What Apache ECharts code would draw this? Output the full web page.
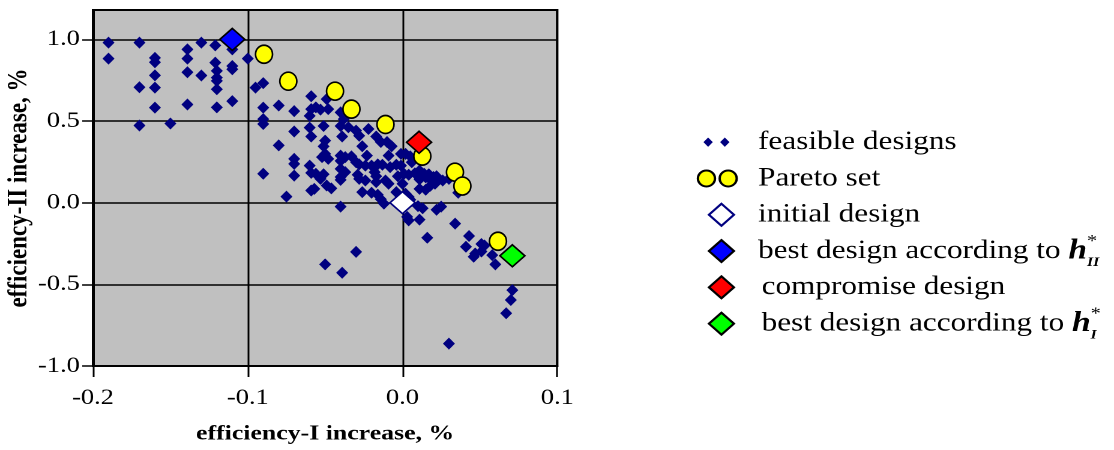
<!DOCTYPE html>
<html>
<head>
<meta charset="utf-8">
<script src="https://cdn.jsdelivr.net/npm/echarts@6/dist/echarts.min.js"></script>
<style>
  html, body { margin: 0; padding: 0; background: #fff; overflow: hidden; }
  /* the original figure is stretched sideways, so the chart is drawn narrow and widened */
  #chart { width: 928px; height: 450px; transform: scaleX(1.2004); transform-origin: 0 0; }
</style>
</head>
<body>
<div id="chart"></div>
<script>
// feasible designs [efficiency-I increase, efficiency-II increase]
var feasible = [
  [-0.190, 0.980], [-0.190, 0.882], [-0.170, 0.980], [-0.170, 0.707], [-0.170, 0.473],
  [-0.160, 0.887], [-0.160, 0.860], [-0.160, 0.780], [-0.160, 0.705], [-0.160, 0.582],
  [-0.150, 0.485], [-0.139, 0.939], [-0.139, 0.882], [-0.139, 0.799], [-0.139, 0.601],
  [-0.130, 0.980], [-0.130, 0.779], [-0.121, 0.963], [-0.121, 0.858], [-0.120, 0.807],
  [-0.120, 0.766], [-0.120, 0.746], [-0.120, 0.695], [-0.120, 0.584], [-0.110, 0.939],
  [-0.110, 0.837], [-0.110, 0.817], [-0.110, 0.622], [-0.100, 0.882], [-0.095, 0.705],
  [-0.090, 0.732], [-0.090, 0.582], [-0.090, 0.512], [-0.090, 0.482], [-0.080, 0.595],
  [-0.080, 0.351], [-0.070, 0.561], [-0.070, 0.436], [-0.070, 0.268], [-0.070, 0.238],
  [-0.070, 0.166], [-0.090, 0.177], [-0.075, 0.037], [-0.059, 0.652], [-0.049, 0.634],
  [-0.059, 0.573], [-0.056, 0.584], [-0.053, 0.570], [-0.048, 0.573], [-0.060, 0.532],
  [-0.040, 0.553], [-0.038, 0.512], [-0.060, 0.460], [-0.059, 0.405], [-0.051, 0.470],
  [-0.050, 0.380], [-0.051, 0.345], [-0.040, 0.470], [-0.035, 0.462], [-0.039, 0.405],
  [-0.030, 0.441], [-0.028, 0.410], [-0.026, 0.346], [-0.022, 0.451], [-0.017, 0.405],
  [-0.014, 0.372], [-0.010, 0.372], [-0.007, 0.346], [-0.060, 0.227], [-0.059, 0.183],
  [-0.056, 0.177], [-0.053, 0.146], [-0.052, 0.279], [-0.050, 0.299], [-0.048, 0.268],
  [-0.051, 0.174], [-0.040, 0.288], [-0.037, 0.279], [-0.033, 0.284], [-0.040, 0.256],
  [-0.030, 0.248], [-0.028, 0.235], [-0.024, 0.227], [-0.023, 0.288], [-0.040, 0.207],
  [-0.037, 0.187], [-0.040, 0.157], [-0.029, 0.171], [-0.028, 0.146], [-0.024, 0.136],
  [-0.020, 0.227], [-0.016, 0.235], [-0.013, 0.232], [-0.018, 0.187], [-0.017, 0.162],
  [-0.017, 0.126], [-0.011, 0.136], [-0.009, 0.116], [-0.008, 0.218], [-0.004, 0.232],
  [-0.009, 0.288], [-0.003, 0.162], [-0.001, 0.299], [0.002, 0.299], [0.005, 0.284],
  [-0.059, 0.075], [-0.057, 0.085], [-0.049, 0.105], [-0.046, 0.088], [-0.040, 0.140],
  [-0.040, -0.024], [-0.026, 0.065], [-0.020, 0.061], [-0.016, 0.049], [-0.014, 0.021],
  [-0.012, -0.006], [-0.004, 0.065], [-0.001, 0.227], [0.006, 0.248], [0.001, 0.177],
  [0.004, 0.171], [0.008, 0.180], [0.011, 0.197], [0.014, 0.177], [0.017, 0.174],
  [0.020, 0.157], [0.022, 0.162], [0.011, 0.143], [0.015, 0.155], [0.018, 0.143],
  [0.000, 0.116], [0.011, 0.085], [0.015, 0.079], [0.018, 0.104], [0.021, 0.116],
  [0.026, 0.136], [0.030, 0.146], [0.036, 0.061], [0.002, 0.055], [0.004, 0.035],
  [0.005, 0.018], [0.010, -0.021], [0.013, -0.034], [0.022, -0.043], [0.025, -0.024],
  [0.003, -0.087], [0.004, -0.108], [0.011, -0.104], [0.034, -0.128], [0.016, -0.215],
  [0.043, -0.204], [0.041, -0.270], [0.051, -0.253], [0.053, -0.262], [0.047, -0.311],
  [0.046, -0.331], [0.051, -0.299], [0.058, -0.321], [0.060, -0.378], [0.071, -0.535],
  [0.070, -0.596], [0.067, -0.677], [0.030, -0.863], [-0.030, -0.301], [-0.050, -0.378],
  [-0.039, -0.429]
];
var pareto = [
  [-0.0895, 0.909], [-0.0738, 0.744], [-0.0436, 0.683], [-0.033, 0.573], [-0.011, 0.479],
  [0.0128, 0.285], [0.0339, 0.187], [0.0387, 0.102], [0.0617, -0.236]
];
var initialDesign = [[0.0, 0.0]];
var bestII = [[-0.110, 1.0]];
var compromise = [[0.0107, 0.37]];
var bestI = [[0.071, -0.325]];

var seriesNames = ['feasible designs', 'Pareto set', 'initial design',
  'best design according to h*II', 'compromise design', 'best design according to h*I'];
var xTicks = [-0.2, -0.1, 0.0, 0.1];
var yTicks = [-1.0, -0.5, 0.0, 0.5, 1.0];

var serif = 'Liberation Serif';
var S = 1.2004; // horizontal stretch of the page

// legend icons, drawn in a 46x24 box (the leading moves fix the box)
var box = 'M0 0M46 24';
var dia = 'M20.5 1L30.9 12L20.5 23L10.1 12Z';
var legendIcons = [
  box + 'M9.4 7.3L13.3 12L9.4 16.7L5.5 12ZM23.3 7.3L27.2 12L23.3 16.7L19.4 12Z',
  box + 'M0.9 12A7.1 8 0 1 0 15.1 12A7.1 8 0 1 0 0.9 12ZM19 12A7.1 8 0 1 0 33.2 12A7.1 8 0 1 0 19 12Z',
  box + dia, box + dia, box + dia, box + dia
];

var bigDia = [25 / S, 22];

var myChart = echarts.init(document.getElementById('chart'), null, { devicePixelRatio: 2 });
var option = {
  animation: false,
  grid: {
    left: 77.5, right: 463.8, top: 10, bottom: 82,
    show: true, backgroundColor: '#c0c0c0', borderColor: '#000', borderWidth: 2
  },
  legend: {
    orient: 'vertical', left: 574.5, top: 119, itemGap: 0,
    itemWidth: 46, itemHeight: 24, selectedMode: false,
    data: seriesNames.map(function (n, i) { return { name: n, icon: 'path://' + legendIcons[i] }; }),
    textStyle: {
      fontFamily: serif, fontSize: 26, color: '#000', lineHeight: 36.3,
      rich: {
        pad: { fontFamily: serif, fontSize: 26, color: '#000', padding: [0, 0, 0, 3] },
        h: { fontFamily: serif, fontSize: 28, fontStyle: 'italic', fontWeight: 'bold', color: '#000' },
        sup: { fontFamily: serif, fontSize: 17, color: '#000', verticalAlign: 'top', lineHeight: 9, width: 0 },
        sub: { fontFamily: serif, fontSize: 13, fontStyle: 'italic', fontWeight: 'bold', color: '#000',
               verticalAlign: 'bottom', lineHeight: 14 }
      }
    },
    formatter: function (name) {
      if (name === seriesNames[3]) return 'best design according to {h|h}{sup|*}{sub|II}';
      if (name === seriesNames[4]) return '{pad|' + name + '}';
      if (name === seriesNames[5]) return '{pad|best design according to }{h|h}{sup|*}{sub|I}';
      return name;
    }
  },
  xAxis: {
    type: 'value', min: xTicks[0], max: xTicks[xTicks.length - 1], interval: 0.1,
    name: 'efficiency-I increase, %', nameLocation: 'middle', nameGap: 57,
    nameTextStyle: { fontFamily: serif, fontWeight: 'bold', fontSize: 21.5, color: '#000' },
    axisLine: { show: true, onZero: false, lineStyle: { color: '#000', width: 2 } },
    axisTick: { show: true, length: 11, lineStyle: { color: '#000', width: 1.5 } },
    axisLabel: { fontFamily: serif, fontSize: 22, color: '#000', margin: 21,
                 formatter: function (v) { return v.toFixed(1); } },
    splitLine: { show: true, lineStyle: { color: '#000', width: 1.5 } }
  },
  yAxis: {
    type: 'value', min: yTicks[0], max: 1.18, interval: 0.5,
    name: 'efficiency-II increase, %', nameLocation: 'middle', nameGap: 50,
    nameTextStyle: { fontFamily: serif, fontWeight: 'bold', fontSize: 23, color: '#000' },
    axisLine: { show: true, onZero: false, lineStyle: { color: '#000', width: 2 } },
    axisTick: { show: true, length: 9, lineStyle: { color: '#000', width: 1.5 } },
    axisLabel: { fontFamily: serif, fontSize: 22, color: '#000', margin: 11, showMaxLabel: false,
                 formatter: function (v) { return v.toFixed(1); } },
    splitLine: { show: true, lineStyle: { color: '#000', width: 1.5 } }
  },
  series: [
    { name: seriesNames[0], type: 'scatter', symbol: 'diamond', symbolSize: [12 / S, 12],
      itemStyle: { color: '#000080', opacity: 1 }, data: feasible, silent: true },
    { name: seriesNames[1], type: 'scatter', symbol: 'circle', symbolSize: [17 / S, 18],
      itemStyle: { color: '#ffff00', opacity: 1, borderColor: '#000', borderWidth: 1.5 }, data: pareto, silent: true },
    { name: seriesNames[2], type: 'scatter', symbol: 'diamond', symbolSize: bigDia,
      itemStyle: { color: '#ffffff', opacity: 1, borderColor: '#000080', borderWidth: 1.5 }, data: initialDesign, silent: true },
    { name: seriesNames[3], type: 'scatter', symbol: 'diamond', symbolSize: bigDia,
      itemStyle: { color: '#0000ff', opacity: 1, borderColor: '#000', borderWidth: 1.5 }, data: bestII, silent: true },
    { name: seriesNames[4], type: 'scatter', symbol: 'diamond', symbolSize: bigDia,
      itemStyle: { color: '#ff0000', opacity: 1, borderColor: '#000', borderWidth: 1.5 }, data: compromise, silent: true },
    { name: seriesNames[5], type: 'scatter', symbol: 'diamond', symbolSize: bigDia,
      itemStyle: { color: '#00ff00', opacity: 1, borderColor: '#000', borderWidth: 1.5 }, data: bestI, silent: true }
  ]
};
myChart.setOption(option);
</script>
</body>
</html>
